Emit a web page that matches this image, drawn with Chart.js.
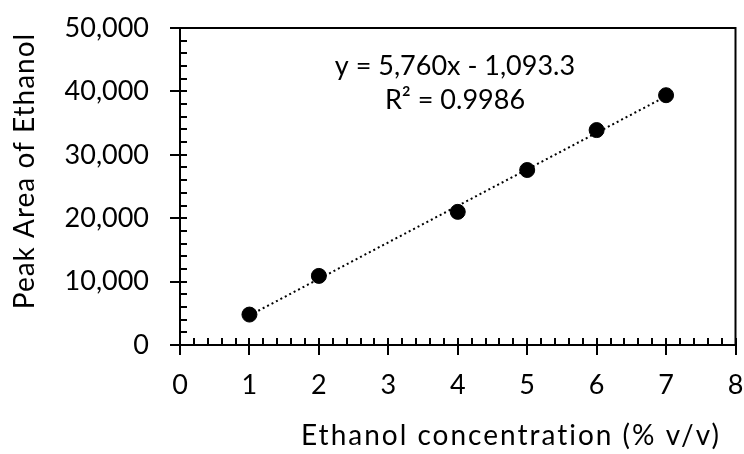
<!DOCTYPE html>
<html>
<head>
<meta charset="utf-8">
<script src="https://cdn.jsdelivr.net/npm/chart.js"></script>
<style>
  html, body { margin: 0; padding: 0; background: #fff; }
  #wrap { width: 744px; height: 454px; }
</style>
</head>
<body>
<div id="wrap"><canvas id="ethanolChart" width="744" height="454"></canvas></div>
<script>
// data
const concentrations = [1, 2, 4, 5, 6, 7];
const peakAreas = [4800, 10900, 21000, 27600, 33900, 39400];

// linear trendline as printed on the chart
const slope = 5760;
const intercept = -1093.3;
const rSquared = '0.9986';

const xTitle = 'Ethanol concentration (% v/v)';
const yTitle = 'Peak Area of Ethanol';

const FONT = 'Lato, Calibri, Carlito, sans-serif';

const points = concentrations.map((x, i) => ({ x: x, y: peakAreas[i] }));
const xFirst = concentrations[0];
const xLast = concentrations[concentrations.length - 1];
const trend = [
    { x: xFirst, y: slope * xFirst + intercept },
    { x: xLast, y: slope * xLast + intercept }
];

function fmt(n) {
    return n.toLocaleString('en-US');
}

// Excel-like axes: crossing major ticks, inside minor ticks, box on top/right
const excelAxes = {
    id: 'excelAxes',
    beforeDatasetsDraw(chart) {
        const ctx = chart.ctx;
        const a = chart.chartArea;
        const xs = chart.scales.x;
        const ys = chart.scales.y;
        ctx.save();
        ctx.strokeStyle = '#000';
        ctx.lineWidth = 2;
        ctx.lineCap = 'butt';

        ctx.beginPath();
        ctx.rect(a.left, a.top, a.right - a.left, a.bottom - a.top);
        ctx.stroke();

        ctx.beginPath();
        for (let i = 0; i <= 40; i++) {
            const px = Math.round(xs.getPixelForValue(i * 0.2));
            const major = i % 5 === 0;
            ctx.moveTo(px, a.bottom - 7);
            ctx.lineTo(px, a.bottom + (major ? 10 : 0));
        }
        for (let i = 0; i <= 25; i++) {
            const py = Math.round(ys.getPixelForValue(i * 2000));
            const major = i % 5 === 0;
            ctx.moveTo(a.left - (major ? 10 : 0), py);
            ctx.lineTo(a.left + 7, py);
        }
        ctx.stroke();
        ctx.restore();
    },
    afterDraw(chart) {
        const ctx = chart.ctx;
        ctx.save();
        ctx.fillStyle = '#000';
        ctx.font = '27px ' + FONT;
        ctx.textAlign = 'center';
        ctx.textBaseline = 'middle';

        // equation label
        ctx.fillText('y = ' + fmt(slope) + 'x - ' + fmt(-intercept), 455, 66);
        ctx.fillText('R² = ' + rSquared, 455, 100);

        // axis titles
        ctx.font = '28px ' + FONT;
        ctx.letterSpacing = '2px';
        ctx.fillText(xTitle, 511, 436);
        ctx.letterSpacing = '1px';
        ctx.translate(25, 171);
        ctx.rotate(-Math.PI / 2);
        ctx.fillText(yTitle, 0, 0);
        ctx.restore();
    }
};

new Chart(document.getElementById('ethanolChart'), {
    type: 'scatter',
    data: {
        datasets: [
            {
                label: 'Peak area',
                data: points,
                backgroundColor: '#000',
                borderColor: '#000',
                pointRadius: 7.5,
                pointHoverRadius: 7.5,
                order: 1
            },
            {
                label: 'Linear fit',
                type: 'line',
                data: trend,
                showLine: true,
                borderColor: '#000',
                borderWidth: 2,
                borderDash: [2, 3],
                pointRadius: 0,
                fill: false,
                order: 2
            }
        ]
    },
    options: {
        responsive: false,
        animation: false,
        layout: { padding: { top: 28, right: 8, left: 0, bottom: 0 } },
        plugins: {
            legend: { display: false },
            tooltip: { enabled: false }
        },
        scales: {
            x: {
                type: 'linear',
                min: 0,
                max: 8,
                grid: { display: false, drawTicks: false },
                border: { display: false },
                ticks: {
                    stepSize: 1,
                    padding: 24,
                    color: '#000',
                    font: { family: FONT, size: 27 },
                    callback: v => String(v)
                },
                afterFit(scale) {
                    scale.height = 109;
                    scale.paddingLeft = 0;
                    scale.paddingRight = 0;
                }
            },
            y: {
                min: 0,
                max: 50000,
                grid: { display: false, drawTicks: false },
                border: { display: false },
                ticks: {
                    stepSize: 10000,
                    padding: 31,
                    color: '#000',
                    font: { family: FONT, size: 27 },
                    callback: v => fmt(v)
                },
                afterFit(scale) {
                    scale.width = 180;
                    scale.paddingTop = 0;
                    scale.paddingBottom = 0;
                }
            }
        }
    },
    plugins: [excelAxes]
});
</script>
</body>
</html>
